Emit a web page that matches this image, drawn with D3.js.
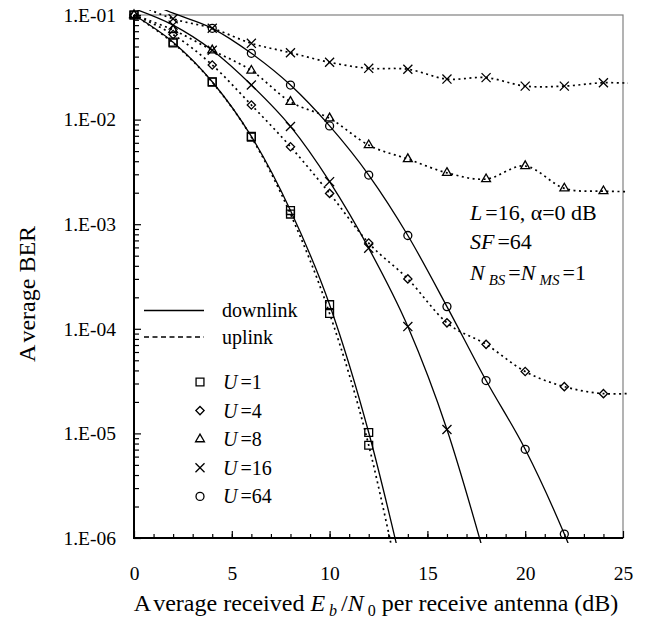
<!DOCTYPE html>
<html>
<head>
<meta charset="utf-8">
<script src="https://cdn.jsdelivr.net/npm/d3@7"></script>
<style>
  body { margin: 0; background: #fff; }
  text { font-family: "Liberation Serif", "DejaVu Serif", serif; fill: #000; }
</style>
</head>
<body>
<div id="chart"></div>
<script>
// Eb/N0 points (dB); the last point lies past the axis and is only seen as the line running out
const ebn0 = [0, 2, 4, 6, 8, 10, 12, 14, 16, 18, 20, 22, 24, 26];

// average BER (null = no point)
const dlU1  = [0.1, 0.055, 0.023, 0.0069, 0.00135, 1.7e-4, 1.02e-5, 3e-7, null, null, null, null, null, null];
const ulU1  = [0.1, 0.054, 0.0228, 0.0068, 0.00125, 1.4e-4, 7.7e-6, 1.5e-7, null, null, null, null, null, null];
const ulU4  = [0.1, 0.065, 0.0333, 0.0138, 0.0055, 0.00197, 6.6e-4, 3.0e-4, 1.14e-4, 7.1e-5, 3.9e-5, 2.8e-5, 2.4e-5, 2.45e-5];
const ulU8  = [0.1, 0.072, 0.046, 0.0294, 0.0148, 0.0103, 0.0057, 0.0042, 0.0031, 0.0027, 0.0036, 0.0022, 0.00207, 0.00205];
const ulU16 = [0.13, 0.092, 0.0746, 0.0536, 0.0436, 0.0353, 0.0309, 0.0303, 0.0244, 0.0252, 0.0209, 0.0209, 0.0225, 0.022];
const dlU16 = [0.115, 0.080, 0.046, 0.0214, 0.0086, 0.00255, 5.9e-4, 1.05e-4, 1.09e-5, 6e-7, null, null, null, null];
const dlU64 = [0.15, 0.104, 0.0746, 0.043, 0.0214, 0.0087, 0.00295, 7.8e-4, 1.63e-4, 3.2e-5, 7.05e-6, 1.09e-6, 1.2e-7, null];

const yTicks = [1e-1, 1e-2, 1e-3, 1e-4, 1e-5, 1e-6];
const xTicks = [0, 5, 10, 15, 20, 25];
const legendUsers = ["1", "4", "8", "16", "64"];

const width = 658, height = 618;
const plot = {left: 134, right: 623, top: 15, bottom: 538};

let svg = d3.select("#chart")
    .append("svg")
    .attr("width", width)
    .attr("height", height)
    .attr("font-family", "Liberation Serif, DejaVu Serif, serif");

svg.append("rect").attr("width", width).attr("height", height).attr("fill", "#fff");

let x = d3.scaleLinear().domain([0, 25]).range([plot.left, plot.right]);
let y = d3.scaleLog().domain([1e-6, 1e-1]).range([plot.bottom, plot.top]);

svg.append("defs").append("clipPath").attr("id", "clip")
    .append("rect")
    .attr("x", plot.left - 5).attr("y", plot.top - 5)
    .attr("width", plot.right - plot.left + 10)
    .attr("height", plot.bottom - plot.top + 10);

// frame (top / right are thin grey)
svg.append("rect")
    .attr("x", plot.left).attr("y", plot.top)
    .attr("width", plot.right - plot.left).attr("height", plot.bottom - plot.top)
    .attr("fill", "none").attr("stroke", "#808080").attr("stroke-width", 1.2);

// y axis: major ticks + labels, minor ticks
let minorY = [];
for (let e = -6; e < -1; e++) for (let k = 2; k <= 9; k++) minorY.push(k * Math.pow(10, e));

svg.append("g")
    .attr("transform", `translate(${plot.left},0)`)
    .call(d3.axisLeft(y).tickValues(minorY).tickSize(-5).tickFormat(""))
    .call(g => g.select(".domain").remove());

svg.append("g")
    .attr("transform", `translate(${plot.left},0)`)
    .call(d3.axisLeft(y).tickValues(yTicks).tickSizeInner(-7).tickSizeOuter(0).tickPadding(18)
        .tickFormat(d => "1.E-0" + Math.round(-Math.log10(d))))
    .attr("font-family", null)
    .call(g => g.select(".domain").remove())
    .call(g => g.selectAll("text").style("font-size", "19.5px").attr("fill", "#000"));

// x axis
svg.append("g")
    .attr("transform", `translate(0,${plot.bottom})`)
    .call(d3.axisBottom(x).tickValues(d3.range(1, 25)).tickSize(-4).tickFormat(""))
    .call(g => g.select(".domain").remove());

svg.append("g")
    .attr("transform", `translate(0,${plot.bottom})`)
    .call(d3.axisBottom(x).tickValues(xTicks).tickSizeInner(-7).tickSizeOuter(0).tickPadding(28))
    .attr("font-family", null)
    .call(g => g.select(".domain").remove())
    .call(g => g.selectAll("text").style("font-size", "19.5px").attr("fill", "#000"));

svg.selectAll(".tick line").attr("stroke", "#000").attr("stroke-width", 1.2);

// main axis lines
svg.append("line").attr("x1", plot.left).attr("x2", plot.left)
    .attr("y1", plot.top).attr("y2", plot.bottom + 1)
    .attr("stroke", "#000").attr("stroke-width", 2);
svg.append("line").attr("x1", plot.left - 1).attr("x2", plot.right)
    .attr("y1", plot.bottom).attr("y2", plot.bottom)
    .attr("stroke", "#000").attr("stroke-width", 2);

// marker shapes
const symbols = {
    square:   d3.symbol(d3.symbolSquare, 62),
    diamond:  d3.symbol(d3.symbolSquare, 34),
    triangle: d3.symbol(d3.symbolTriangle, 34),
    times:    d3.symbol(d3.symbolTimes, 55),
    circle:   d3.symbol(d3.symbolCircle, 50)
};

function drawMarker(g, type, cx, cy) {
    g.append("path")
        .attr("d", symbols[type]())
        .attr("transform", `translate(${cx},${cy})` + (type === "diamond" ? " rotate(45)" : ""))
        .attr("fill", "none")
        .attr("stroke", "#000")
        .attr("stroke-width", 1.3);
}

const UPLINK_DASH = "2,3.5";

let series = [
    {vals: ulU16, sym: "times",    dash: UPLINK_DASH},
    {vals: ulU8,  sym: "triangle", dash: UPLINK_DASH},
    {vals: ulU4,  sym: "diamond",  dash: UPLINK_DASH},
    {vals: ulU1,  sym: "square",   dash: UPLINK_DASH},
    {vals: dlU1,  sym: "square",   dash: null},
    {vals: dlU16, sym: "times",    dash: null},
    {vals: dlU64, sym: "circle",   dash: null}
];

let line = d3.line()
    .x(d => x(d[0]))
    .y(d => y(d[1]))
    .curve(d3.curveCardinal.tension(0));

let lines = svg.append("g").attr("clip-path", "url(#clip)");
let marks = svg.append("g");

series.forEach(function (s) {
    let pts = ebn0.map((e, i) => [e, s.vals[i]]).filter(d => d[1] != null);
    lines.append("path")
        .attr("d", line(pts))
        .attr("fill", "none")
        .attr("stroke", "#000")
        .attr("stroke-width", s.dash ? 1.7 : 1.3)
        .attr("stroke-dasharray", s.dash);
    pts.filter(d => d[0] <= 25 && d[1] >= 1e-6 && d[1] <= 0.1001)
        .forEach(d => drawMarker(marks, s.sym, x(d[0]), y(d[1])));
});

// legend
let legend = svg.append("g");
legend.append("line").attr("x1", 144).attr("x2", 204).attr("y1", 310.5).attr("y2", 310.5)
    .attr("stroke", "#000").attr("stroke-width", 1.3);
legend.append("line").attr("x1", 144).attr("x2", 204).attr("y1", 337).attr("y2", 337)
    .attr("stroke", "#000").attr("stroke-width", 1.3).attr("stroke-dasharray", "5,3.5");
legend.append("text").attr("x", 222).attr("y", 317).style("font-size", "20px").text("downlink");
legend.append("text").attr("x", 222).attr("y", 344).style("font-size", "20px").text("uplink");

const legendSyms = ["square", "diamond", "triangle", "times", "circle"];
legendUsers.forEach(function (u, i) {
    let cy = 382 + i * 28.6;
    drawMarker(legend, legendSyms[i], 200, cy);
    let t = legend.append("text").attr("x", 223).attr("y", cy + 7).style("font-size", "20px");
    t.append("tspan").style("font-style", "italic").text("U");
    t.append("tspan").attr("dx", 3).text("=" + u);
});

// annotations
let ann = svg.append("g").style("font-size", "22px");
let a1 = ann.append("text").attr("x", 470).attr("y", 220);
a1.append("tspan").style("font-style", "italic").text("L");
a1.append("tspan").attr("dx", 3).text("=16, α=0 dB");

let a2 = ann.append("text").attr("x", 470).attr("y", 249);
a2.append("tspan").style("font-style", "italic").text("SF");
a2.append("tspan").attr("dx", 3).text("=64");

let a3 = ann.append("text").attr("x", 470).attr("y", 280);
a3.append("tspan").style("font-style", "italic").text("N");
a3.append("tspan").attr("dx", 4).attr("dy", 5).style("font-style", "italic").style("font-size", "15px").text("BS");
a3.append("tspan").attr("dx", 3).attr("dy", -5).text("=");
a3.append("tspan").style("font-style", "italic").text("N");
a3.append("tspan").attr("dx", 4).attr("dy", 5).style("font-style", "italic").style("font-size", "15px").text("MS");
a3.append("tspan").attr("dx", 3).attr("dy", -5).text("=1");

// axis titles
let xt = svg.append("text")
    .attr("x", 376).attr("y", 611)
    .attr("text-anchor", "middle")
    .style("font-size", "24px");
xt.append("tspan").text("A");
xt.append("tspan").attr("dx", 4).text("verage received ");
xt.append("tspan").style("font-style", "italic").text("E");
xt.append("tspan").attr("dx", 4).attr("dy", 5).style("font-style", "italic").style("font-size", "16px").text("b");
xt.append("tspan").attr("dx", 4).attr("dy", -5).text("/");
xt.append("tspan").style("font-style", "italic").text("N");
xt.append("tspan").attr("dx", 4).attr("dy", 5).style("font-size", "16px").text("0");
xt.append("tspan").attr("dy", -5).text(" per receive antenna (dB)");

let yt = svg.append("text")
    .attr("transform", "translate(35,294) rotate(-90)")
    .attr("text-anchor", "middle")
    .style("font-size", "24px");
yt.append("tspan").text("A");
yt.append("tspan").attr("dx", 4).text("verage BER");
</script>
</body>
</html>
